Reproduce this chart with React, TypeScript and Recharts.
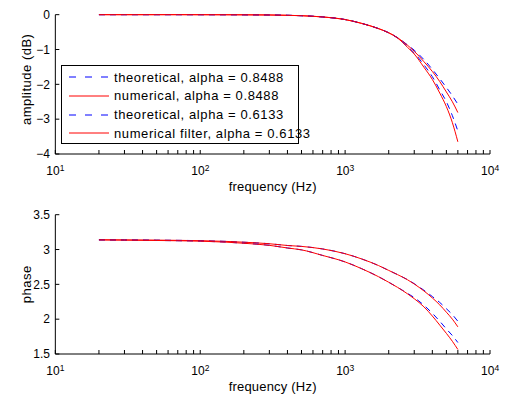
import React from "react";
import { LineChart, Line, XAxis, YAxis, Legend } from "recharts";

// frequency grid (Hz)
const freq = [20, 30, 50, 70, 100, 150, 200, 300, 400, 500, 700, 1000, 1300, 1700, 2000, 2300, 2700, 3000, 3500, 4000, 4500, 5000, 5500, 6000];

// amplitude (dB)
const ampTheoA = [0, 0, 0, 0, -0.001, -0.002, -0.004, -0.009, -0.018, -0.03, -0.065, -0.14, -0.25, -0.4, -0.52, -0.66, -0.87, -1.02, -1.29, -1.57, -1.84, -2.09, -2.33, -2.57];
const ampNumA = [0, 0, 0, 0, -0.001, -0.002, -0.004, -0.009, -0.018, -0.03, -0.065, -0.14, -0.25, -0.4, -0.52, -0.66, -0.88, -1.05, -1.35, -1.63, -1.92, -2.22, -2.5, -2.81];
const ampTheoB = [0, 0, 0, 0, -0.001, -0.002, -0.004, -0.009, -0.018, -0.03, -0.066, -0.14, -0.25, -0.4, -0.52, -0.67, -0.92, -1.1, -1.44, -1.78, -2.16, -2.5, -2.9, -3.34];
const ampNumB = [0, 0, 0, 0, -0.001, -0.002, -0.004, -0.009, -0.018, -0.03, -0.066, -0.14, -0.25, -0.4, -0.52, -0.67, -0.94, -1.13, -1.51, -1.86, -2.25, -2.64, -3.1, -3.65];

// phase (rad)
const phaseTheoA = [3.14, 3.138, 3.135, 3.132, 3.127, 3.117, 3.105, 3.083, 3.058, 3.045, 3.008, 2.94, 2.865, 2.77, 2.7, 2.64, 2.567, 2.51, 2.415, 2.325, 2.24, 2.15, 2.065, 1.97];
const phaseNumA = [3.14, 3.138, 3.135, 3.132, 3.127, 3.117, 3.105, 3.083, 3.058, 3.045, 3.008, 2.94, 2.865, 2.77, 2.7, 2.64, 2.565, 2.505, 2.405, 2.305, 2.205, 2.1, 2.0, 1.89];
const phaseTheoB = [3.138, 3.135, 3.13, 3.126, 3.12, 3.106, 3.09, 3.06, 3.022, 2.995, 2.915, 2.822, 2.725, 2.61, 2.53, 2.457, 2.37, 2.31, 2.2, 2.085, 1.97, 1.86, 1.765, 1.665];
const phaseNumB = [3.138, 3.135, 3.13, 3.126, 3.12, 3.106, 3.09, 3.06, 3.022, 2.995, 2.915, 2.822, 2.725, 2.61, 2.53, 2.457, 2.363, 2.294, 2.177, 2.045, 1.915, 1.796, 1.682, 1.565];

const logTicks = [10, 20, 30, 40, 50, 60, 70, 80, 90, 100, 200, 300, 400, 500, 600, 700, 800, 900, 1000, 2000, 3000, 4000, 5000, 6000, 7000, 8000, 9000, 10000];
const ampTicks = [-4, -3, -2, -1, 0];
const phaseTicks = [1.5, 2, 2.5, 3, 3.5];

const series = [
  { key: "theoA", name: "theoretical, alpha = 0.8488", color: "#0000ff", dash: "6 5" },
  { key: "numA", name: "numerical, alpha = 0.8488", color: "#ff0000", dash: undefined },
  { key: "theoB", name: "theoretical, alpha = 0.6133", color: "#0000ff", dash: "6 5" },
  { key: "numB", name: "numerical filter, alpha = 0.6133", color: "#ff0000", dash: undefined },
];

const ampData = freq.map((f, i) => ({ f, theoA: ampTheoA[i], numA: ampNumA[i], theoB: ampTheoB[i], numB: ampNumB[i] }));
const phaseData = freq.map((f, i) => ({ f, theoA: phaseTheoA[i], numA: phaseNumA[i], theoB: phaseTheoB[i], numB: phaseNumB[i] }));

const FONT = "'Liberation Sans', Arial, Helvetica, sans-serif";

function LogTick(props: any) {
  const { x, y, payload } = props;
  const v = payload.value;
  const e = Math.round(Math.log10(v));
  if (Math.abs(Math.pow(10, e) - v) > 1e-6) return null;
  return (
    <g>
      <text x={x - 2.3} y={y + 16.5} textAnchor="middle" fontSize={12} fill="#000" fontFamily={FONT}>10</text>
      <text x={x + 4.5} y={y + 12.5} textAnchor="start" fontSize={8.5} fill="#000" fontFamily={FONT}>{e}</text>
    </g>
  );
}

function YTitle(props: any) {
  const { viewBox, text, shift } = props;
  const cx = viewBox.x + viewBox.width / 2 - 1;
  const cy = viewBox.y + viewBox.height / 2 + shift;
  return (
    <text
      x={cx}
      y={cy}
      transform={`rotate(-90, ${cx}, ${cy})`}
      textAnchor="middle"
      dominantBaseline="central"
      fontSize={13}
      letterSpacing={0.5}
      fill="#000"
      fontFamily={FONT}
    >
      {text}
    </text>
  );
}

const fmtY = (v: number) => (v < 0 ? "\u2212" + Math.abs(v) : String(v));

function LegendBox() {
  return (
    <div style={{ width: 238, height: 79, boxSizing: "border-box", border: "1px solid #000", background: "#fff", paddingTop: 2, fontFamily: FONT }}>
      {series.map((s) => (
        <div key={s.key} style={{ height: 18.67, display: "flex", alignItems: "center" }}>
          <svg width={52} height={10} style={{ flex: "none" }}>
            <line x1={7} x2={47} y1={5} y2={5} stroke={s.color} strokeWidth={1} strokeDasharray={s.dash ? "7 9" : undefined} />
          </svg>
          <span style={{ fontSize: 13, letterSpacing: 0.6, color: "#000", whiteSpace: "nowrap" }}>{s.name}</span>
        </div>
      ))}
    </div>
  );
}

function Panel({ data, yTicks, yDomain, yLabel, yShift, top, xHeight, labelOffset, legend }: any) {
  return (
    <LineChart width={505} height={197} data={data} margin={{ top, right: 15, left: 0, bottom: 0 }} style={{ fontFamily: FONT }}>
      <XAxis
        xAxisId="b"
        dataKey="f"
        type="number"
        scale="log"
        domain={[10, 10000]}
        ticks={logTicks}
        interval={0}
        allowDataOverflow
        height={xHeight}
        tickSize={-4}
        tickMargin={8}
        tick={<LogTick />}
        axisLine={{ stroke: "#000" }}
        tickLine={{ stroke: "#000" }}
        label={{ value: "frequency (Hz)", position: "insideBottom", offset: labelOffset, fontSize: 13, letterSpacing: 0.2, fill: "#000" }}
      />
      <XAxis
        xAxisId="t"
        orientation="top"
        dataKey="f"
        type="number"
        scale="log"
        domain={[10, 10000]}
        ticks={logTicks}
        interval={0}
        allowDataOverflow
        height={0}
        tickSize={-4}
        tick={false}
        axisLine={{ stroke: "#000" }}
        tickLine={{ stroke: "#000" }}
      />
      <YAxis
        yAxisId="l"
        type="number"
        domain={yDomain}
        ticks={yTicks}
        interval={0}
        width={55.33}
        tickSize={-4}
        tickMargin={9.3}
        tickFormatter={fmtY}
        tick={{ fontSize: 12, fill: "#000" }}
        axisLine={{ stroke: "#000" }}
        tickLine={{ stroke: "#000" }}
        label={{ content: (p: any) => <YTitle viewBox={p.viewBox} text={yLabel} shift={yShift} /> }}
      />
      <YAxis
        yAxisId="r"
        orientation="right"
        type="number"
        domain={yDomain}
        ticks={yTicks}
        interval={0}
        width={0}
        tickSize={-4}
        tick={false}
        axisLine={{ stroke: "#000" }}
        tickLine={{ stroke: "#000" }}
      />
      {series.map((s) => (
        <Line
          key={s.key}
          xAxisId="b"
          yAxisId="l"
          dataKey={s.key}
          name={s.name}
          type="monotone"
          stroke={s.color}
          strokeWidth={1}
          strokeDasharray={s.dash}
          dot={false}
          activeDot={false}
          isAnimationActive={false}
        />
      ))}
      {legend && (
        <Legend
          layout="vertical"
          align="center"
          verticalAlign="middle"
          wrapperStyle={{ left: 61, top: 65, width: 238 }}
          content={() => <LegendBox />}
        />
      )}
    </LineChart>
  );
}

export default function App() {
  return (
    <div style={{ position: "absolute", left: 0, top: 0, width: 505, height: 394, background: "#fff" }}>
      <Panel data={ampData} yTicks={ampTicks} yDomain={[-4, 0]} yLabel="amplitude (dB)" yShift={-5} top={14.67} xHeight={43} labelOffset={6} legend />
      <Panel data={phaseData} yTicks={phaseTicks} yDomain={[1.5, 3.5]} yLabel="phase" yShift={0} top={17.7} xHeight={40} labelOffset={3} />
    </div>
  );
}
